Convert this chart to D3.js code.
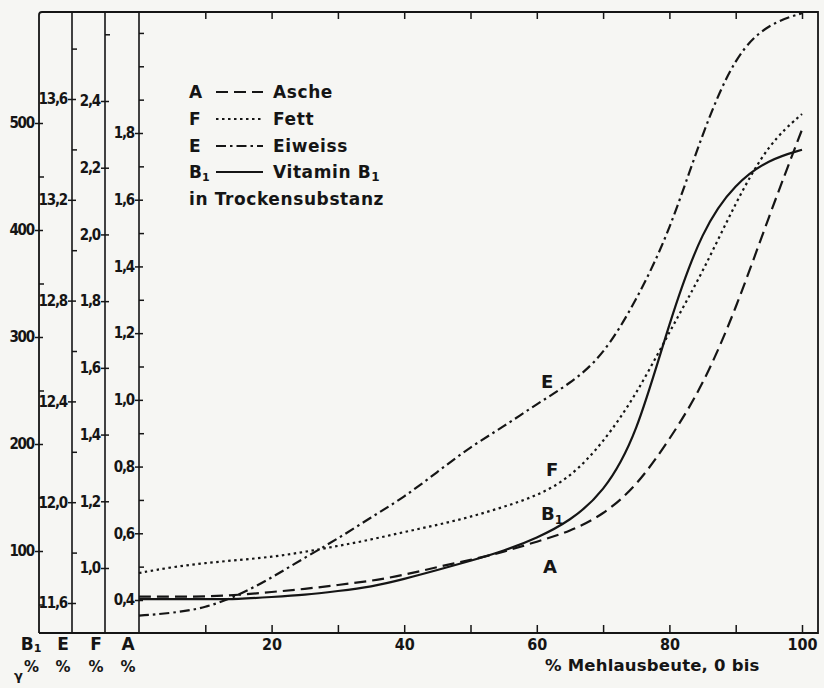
<!DOCTYPE html>
<html><head><meta charset="utf-8">
<script src="https://cdn.jsdelivr.net/npm/d3@7"></script>
<style>
html,body{margin:0;padding:0;background:#f6f6f3;}
svg{display:block;}
text{font-weight:bold;fill:#151515;}
</style></head>
<body>
<svg id="c" width="824" height="688" font-family="'DejaVu Sans Condensed','DejaVu Sans',sans-serif"></svg>
<script>
// ---- data ----
const ausbeute = [0,5,10,15,20,25,30,35,40,45,50,55,60,65,70,75,80,85,90,95,100];
// Asche (A), % in dry matter
const asche = [0.41,0.41,0.41,0.415,0.424,0.433,0.445,0.457,0.475,0.499,0.52,0.544,0.575,0.605,0.655,0.74,0.88,1.04,1.27,1.55,1.81];
// Fett (F), %
const fett = [0.985,1.003,1.015,1.024,1.033,1.048,1.066,1.085,1.108,1.129,1.153,1.183,1.216,1.27,1.375,1.519,1.708,1.885,2.097,2.274,2.361];
// Eiweiss (E), %
const eiweiss = [11.55,11.56,11.58,11.63,11.70,11.78,11.855,11.94,12.02,12.12,12.22,12.30,12.39,12.47,12.58,12.80,13.07,13.47,13.78,13.90,13.94];
// Vitamin B1, gamma %
const vitaminB1 = [55,55,55,55,57,59,62.6,66.4,73.8,82.2,90.7,100,112,128,154,206,315,402,444,466,475];

const xTicks = [10,20,30,40,50,60,70,80,90,100];
const xLabels = [20,40,60,80,100];
const b1Major = [100,200,300,400,500];
const b1Minor = [50,150,250,350,450];
const eMajor = [11.6,12.0,12.4,12.8,13.2,13.6];
const eMinor = [11.8,12.2,12.6,13.0,13.4,13.8];
const fMajor = [1.0,1.2,1.4,1.6,1.8,2.0,2.2,2.4];
const fMinor = [2.6];
const aMajor = [0.4,0.6,0.8,1.0,1.2,1.4,1.6,1.8];
const aMinor = [0.5,0.7,0.9,1.1,1.3,1.5,1.7,1.9,2.0,2.1];

const legendRows = [
  {key:"A", sub:"", name:"Asche", dash:"12,6"},
  {key:"F", sub:"", name:"Fett", dash:"2.5,3.5"},
  {key:"E", sub:"", name:"Eiweiss", dash:"10,4,2.5,4"},
  {key:"B", sub:"1", name:"Vitamin B", nameSub:"1", dash:null}
];

// ---- layout ----
const svg = d3.select("#c");
const topY = 12, bottomY = 633, rightX = 818;
const axX = {B:39, E:72, F:105, A:139};

const x = d3.scaleLinear([0,100],[139,802]);
const yA = d3.scaleLinear([0.4,1.8],[600,133]);
const yF = d3.scaleLinear([1.0,2.4],[568,101]);
const yE = d3.scaleLinear([11.6,13.6],[603,99]);
const yB = d3.scaleLinear([100,500],[551,123]);

const ink = "#151515";
const cond = "'DejaVu Sans Condensed',sans-serif";
const wide = "'DejaVu Sans',sans-serif";
const comma = f => v => f(v).replace(".", ",");

// frame
svg.append("path")
  .attr("d", `M${axX.B},${bottomY} L${axX.B},${topY+3} Q${axX.B},${topY} ${axX.B+3},${topY} L${rightX},${topY} L${rightX},${bottomY} L${axX.B},${bottomY}`)
  .attr("fill","none").attr("stroke",ink).attr("stroke-width",1.8);
["E","F","A"].forEach(k=>{
  svg.append("line").attr("x1",axX[k]).attr("x2",axX[k]).attr("y1",topY).attr("y2",bottomY)
    .attr("stroke",ink).attr("stroke-width",1.6);
});

// vertical axes
function vAxis(xpos, scale, major, minor, fmt){
  const g = svg.append("g").attr("transform",`translate(${xpos},0)`);
  g.call(d3.axisLeft(scale).tickValues(major).tickSize(4).tickPadding(1).tickFormat(fmt));
  g.select(".domain").remove();
  g.selectAll(".tick line").attr("x1",4).attr("stroke",ink).attr("stroke-width",1.5);
  g.selectAll(".tick text").attr("font-size",15).attr("letter-spacing","-1.2")
    .attr("font-family",cond).attr("font-weight","bold").attr("fill",ink);
  const m = svg.append("g").attr("transform",`translate(${xpos},0)`);
  m.call(d3.axisRight(scale).tickValues(minor).tickSize(5).tickFormat(""));
  m.select(".domain").remove();
  m.selectAll(".tick line").attr("stroke",ink).attr("stroke-width",1.5);
}
vAxis(axX.B, yB, b1Major, b1Minor, d3.format("d"));
vAxis(axX.E, yE, eMajor, eMinor, comma(d3.format(".1f")));
vAxis(axX.F, yF, fMajor, fMinor, comma(d3.format(".1f")));
vAxis(axX.A, yA, aMajor, aMinor, comma(d3.format(".1f")));

// bottom axis: ticks inside, labels below
const bx = svg.append("g").attr("transform",`translate(0,${bottomY})`);
bx.call(d3.axisTop(x).tickValues(xTicks).tickSize(8).tickFormat(""));
bx.select(".domain").remove();
bx.selectAll(".tick line").attr("stroke",ink).attr("stroke-width",1.5);
const bl = svg.append("g").attr("transform",`translate(0,${bottomY})`);
bl.call(d3.axisBottom(x).tickValues(xLabels).tickSize(0).tickPadding(6).tickFormat(d3.format("d")));
bl.select(".domain").remove();
bl.selectAll(".tick text").attr("font-size",16).attr("font-family",cond)
  .attr("font-weight","bold").attr("fill",ink);
// top ticks
const tx = svg.append("g").attr("transform",`translate(0,${topY})`);
tx.call(d3.axisBottom(x).tickValues(xTicks).tickSize(7).tickFormat(""));
tx.select(".domain").remove();
tx.selectAll(".tick line").attr("stroke",ink).attr("stroke-width",1.5);

// axis captions under the vertical axes
const capY1 = 650, capY2 = 672;
function sublabel(xc, y, main, sub, size){
  const t = svg.append("text").attr("x",xc).attr("y",y).attr("text-anchor","middle").attr("font-size",size).attr("font-family",wide);
  t.append("tspan").text(main);
  if(sub) t.append("tspan").attr("font-size",size*0.65).attr("dy",2).text(sub);
  return t;
}
sublabel(axX.B-8, capY1, "B", "1", 17);
sublabel(axX.E-9, capY1, "E", "", 17);
sublabel(axX.F-9, capY1, "F", "", 17);
sublabel(axX.A-11, capY1, "A", "", 17);
svg.append("text").attr("x",14).attr("y",680).attr("font-size",13).attr("font-family",wide).text("γ");
svg.append("text").attr("x",24).attr("y",capY2).attr("font-size",15).attr("font-family",wide).text("%");
svg.append("text").attr("x",axX.E-9).attr("y",capY2).attr("text-anchor","middle").attr("font-size",15).attr("font-family",wide).text("%");
svg.append("text").attr("x",axX.F-9).attr("y",capY2).attr("text-anchor","middle").attr("font-size",15).attr("font-family",wide).text("%");
svg.append("text").attr("x",axX.A-11).attr("y",capY2).attr("text-anchor","middle").attr("font-size",15).attr("font-family",wide).text("%");

svg.append("text").attr("x",545).attr("y",671).attr("font-size",16.5).attr("font-family",wide)
  .attr("letter-spacing","0.2").text("% Mehlausbeute, 0 bis");

// curves
const series = [
  {vals:asche, y:yA, dash:"12,6"},
  {vals:fett, y:yF, dash:"2.5,3.5"},
  {vals:eiweiss, y:yE, dash:"10,4,2.5,4"},
  {vals:vitaminB1, y:yB, dash:null}
];
series.forEach(s=>{
  const line = d3.line().x((d,i)=>x(ausbeute[i])).y(d=>s.y(d)).curve(d3.curveBasis);
  svg.append("path").attr("d",line(s.vals)).attr("fill","none").attr("stroke",ink)
    .attr("stroke-width",2.2).attr("stroke-dasharray",s.dash);
});

// curve labels
function curveLabel(px, py, main, sub){
  const t = svg.append("text").attr("x",px).attr("y",py).attr("font-size",18).attr("font-family",wide);
  t.append("tspan").text(main);
  if(sub) t.append("tspan").attr("font-size",12).attr("dy",4).text(sub);
}
curveLabel(541, 388, "E");
curveLabel(546, 476, "F");
curveLabel(541, 520, "B", "1");
curveLabel(543, 573, "A");

// legend
const lg = svg.append("g").attr("font-size",17).attr("font-family",wide);
const rowY = [92,119,146,172];
legendRows.forEach((r,i)=>{
  const y = rowY[i];
  const t = lg.append("text").attr("x",189).attr("y",y+6);
  t.append("tspan").text(r.key);
  if(r.sub) t.append("tspan").attr("font-size",11).attr("dy",3).text(r.sub);
  lg.append("line").attr("x1",216).attr("x2",263).attr("y1",y).attr("y2",y).attr("stroke",ink)
    .attr("stroke-width",2).attr("stroke-dasharray",r.dash);
  const n = lg.append("text").attr("x",273).attr("y",y+6);
  n.append("tspan").attr("letter-spacing","0.6").text(r.name);
  if(r.nameSub) n.append("tspan").attr("font-size",12).attr("dy",3).text(r.nameSub);
});
lg.append("text").attr("x",189).attr("y",205).attr("letter-spacing","0.6").text("in Trockensubstanz");
</script>
</body></html>
